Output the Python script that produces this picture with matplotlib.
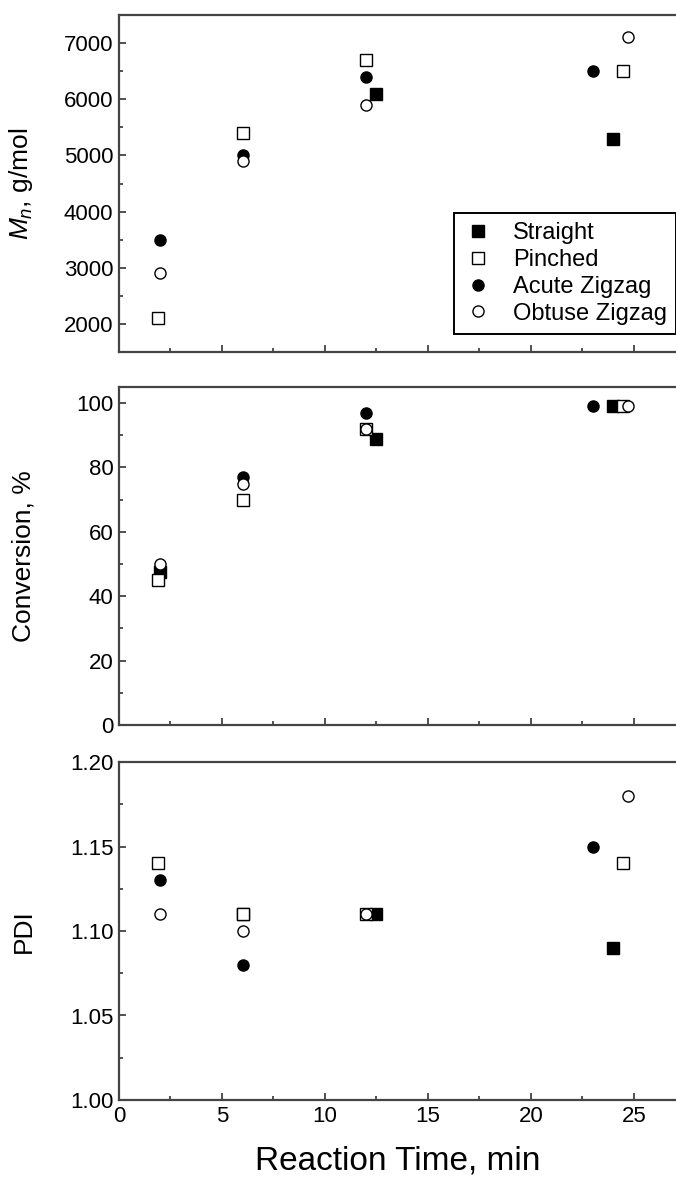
import numpy as np
import matplotlib
matplotlib.use('Agg')
import matplotlib.pyplot as plt
from matplotlib.ticker import MultipleLocator, FormatStrFormatter

plt.rcParams['font.family'] = ['Liberation Sans', 'DejaVu Sans']
plt.rcParams['mathtext.fontset'] = 'custom'
plt.rcParams['mathtext.rm'] = 'Liberation Sans'
plt.rcParams['mathtext.it'] = 'Liberation Sans:italic'

nan = np.nan

# reaction times per channel (slightly offset in the original plot)
t_straight = [2, 6, 12.5, 24]
t_pinched = [1.9, 6, 12, 24.5]
t_acute = [2, 6, 12, 23]
t_obtuse = [2, 6, 12, 24.7]

# Mn, g/mol
mn_straight = [nan, nan, 6100, 5300]
mn_pinched = [2100, 5400, 6700, 6500]
mn_acute = [3500, 5000, 6400, 6500]
mn_obtuse = [2900, 4900, 5900, 7100]

# conversion, %
conv_straight = [47.5, nan, 89, 99]
conv_pinched = [45, 70, 92, 99]
conv_acute = [nan, 77, 97, 99]
conv_obtuse = [50, 75, 92, 99]

# PDI
pdi_straight = [nan, 1.11, 1.11, 1.09]
pdi_pinched = [1.14, 1.11, 1.11, 1.14]
pdi_acute = [1.13, 1.08, nan, 1.15]
pdi_obtuse = [1.11, 1.10, 1.11, 1.18]

W, H = 676, 1184
fig = plt.figure(figsize=(W / 100, H / 100), dpi=100)

left = 119 / W
width = (W - 119) / W


def make_ax(top_px, bot_px):
    return fig.add_axes([left, 1 - bot_px / H, width, (bot_px - top_px) / H])


ax1 = make_ax(15, 352)
ax2 = make_ax(387, 725)
ax3 = make_ax(762, 1100)

styles = [
    ('Straight', 's', 'black'),
    ('Pinched', 's', 'white'),
    ('Acute Zigzag', 'o', 'black'),
    ('Obtuse Zigzag', 'o', 'white'),
]
times = [t_straight, t_pinched, t_acute, t_obtuse]
panels = [
    (ax1, [mn_straight, mn_pinched, mn_acute, mn_obtuse]),
    (ax2, [conv_straight, conv_pinched, conv_acute, conv_obtuse]),
    (ax3, [pdi_straight, pdi_pinched, pdi_acute, pdi_obtuse]),
]

# draw filled ones first so the open markers sit on top like in the original
order = [0, 2, 1, 3]
for ax, series in panels:
    for i in order:
        label, m, fc = styles[i]
        ax.plot(times[i], series[i], linestyle='none', marker=m, markersize=8,
                markerfacecolor=fc, markeredgecolor='black', markeredgewidth=1.0,
                label=label, zorder=3 + (1 if fc == 'white' else 0))

for ax in (ax1, ax2, ax3):
    ax.set_xlim(0, 27.05)
    ax.xaxis.set_major_locator(MultipleLocator(5))
    ax.xaxis.set_minor_locator(MultipleLocator(2.5))
    ax.tick_params(which='both', direction='in', top=False, right=False,
                   labelsize=16, width=1.2, color='#333333', pad=4)
    ax.tick_params(which='major', length=5)
    ax.tick_params(which='minor', length=3)
    ax.spines['right'].set_visible(False)
    for s in ('left', 'bottom', 'top'):
        ax.spines[s].set_linewidth(1.6)
        ax.spines[s].set_color('#444444')

ax1.set_ylim(1500, 7500)
ax1.yaxis.set_major_locator(MultipleLocator(1000))
ax1.yaxis.set_minor_locator(MultipleLocator(500))
ax1.set_ylabel(r'$M_n$, g/mol', fontsize=19)
ax1.tick_params(labelbottom=False)

ax2.set_ylim(0, 105)
ax2.yaxis.set_major_locator(MultipleLocator(20))
ax2.yaxis.set_minor_locator(MultipleLocator(10))
ax2.set_ylabel('Conversion, %', fontsize=19)
ax2.tick_params(labelbottom=False)

ax3.set_ylim(1.00, 1.20)
ax3.yaxis.set_major_locator(MultipleLocator(0.05))
ax3.yaxis.set_minor_locator(MultipleLocator(0.025))
ax3.yaxis.set_major_formatter(FormatStrFormatter('%.2f'))
ax3.set_ylabel('PDI', fontsize=19)
ax3.set_xlabel('Reaction Time, min', fontsize=24, labelpad=14)

# align the three y labels at the same x
for ax in (ax1, ax2, ax3):
    ax.yaxis.set_label_coords(-0.15, 0.5)

handles, labels = ax1.get_legend_handles_labels()
lookup = dict(zip(labels, handles))
names = [s[0] for s in styles]
leg = ax1.legend([lookup[n] for n in names], names, loc='upper left',
                 bbox_to_anchor=(454 / W, 1 - 213 / H), bbox_transform=fig.transFigure,
                 fontsize=17, frameon=True, fancybox=False, framealpha=1,
                 edgecolor='black', handletextpad=0.9, labelspacing=0.2,
                 borderpad=0.4, handlelength=1.2, borderaxespad=0)
leg.get_frame().set_linewidth(1.4)

fig.savefig('out.png', dpi=100)
